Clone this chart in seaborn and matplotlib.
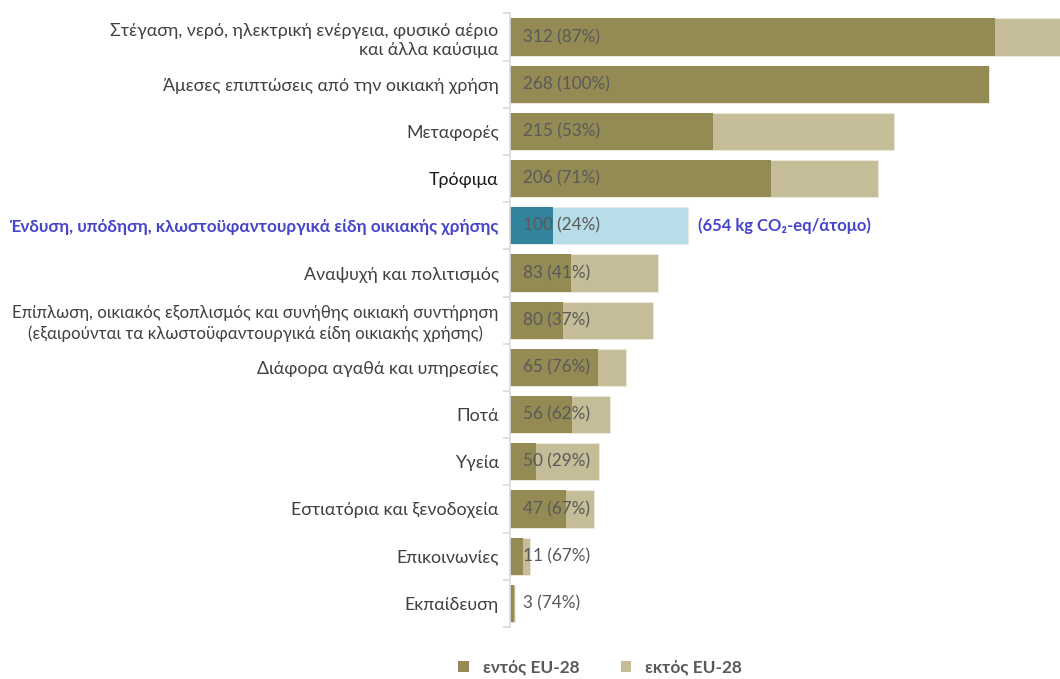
import matplotlib
matplotlib.use("Agg")
import matplotlib.pyplot as plt
import seaborn as sns
import pandas as pd
from matplotlib.patches import Patch

categories = [
    "Στέγαση, νερό, ηλεκτρική ενέργεια, φυσικό αέριο\nκαι άλλα καύσιμα",
    "Άμεσες επιπτώσεις από την οικιακή χρήση",
    "Μεταφορές",
    "Τρόφιμα",
    "Ένδυση, υπόδηση, κλωστοϋφαντουργικά είδη οικιακής χρήσης",
    "Αναψυχή και πολιτισμός",
    "Επίπλωση, οικιακός εξοπλισμός και συνήθης οικιακή συντήρηση\n(εξαιρούνται τα κλωστοϋφαντουργικά είδη οικιακής χρήσης)",
    "Διάφορα αγαθά και υπηρεσίες",
    "Ποτά",
    "Υγεία",
    "Εστιατόρια και ξενοδοχεία",
    "Επικοινωνίες",
    "Εκπαίδευση",
]
totals = [312, 268, 215, 206, 100, 83, 80, 65, 56, 50, 47, 11, 3]
pct_inside = [87, 100, 53, 71, 24, 41, 37, 76, 62, 29, 67, 67, 74]
legend_labels = ["εντός EU-28", "εκτός EU-28"]
highlight_note = "(654 kg CO₂-eq/άτομο)"
highlight_index = 4

inside = [t * p / 100 for t, p in zip(totals, pct_inside)]
df = pd.DataFrame({"cat": categories, "total": totals, "inside": inside})

DARK = "#948A54"
LIGHT = "#C4BD97"
TEAL = "#31849B"
LBLUE = "#B7DEE8"
BLUE_TXT = "#4545C8"
GREY_TXT = "#595959"

sns.set_theme(style="white")
plt.rcParams["font.family"] = ["Lato", "Noto Sans", "DejaVu Sans"]

fig = plt.figure(figsize=(10.6, 6.79), dpi=100)
ax = fig.add_axes([0.481, 0.0766, 0.519, 0.9036])

light_pal = [LBLUE if i == highlight_index else LIGHT for i in range(len(categories))]
dark_pal = [TEAL if i == highlight_index else DARK for i in range(len(categories))]

sns.barplot(data=df, x="total", y="cat", hue="cat", palette=light_pal, legend=False,
            orient="h", width=0.79, ax=ax, edgecolor="#EDEBDD", linewidth=0.6, saturation=1)
sns.barplot(data=df, x="inside", y="cat", hue="cat", palette=dark_pal, legend=False,
            orient="h", width=0.79, ax=ax, edgecolor="none", linewidth=0, saturation=1)

ax.set_xlim(0, 308)
ax.set_ylim(len(categories) - 0.5, -0.5)
ax.set_xlabel("")
ax.set_ylabel("")
ax.set_xticks([])
for s in ["top", "right", "bottom"]:
    ax.spines[s].set_visible(False)
ax.spines["left"].set_color("#D9D9D9")
ax.spines["left"].set_linewidth(1.2)

ax.set_yticks(range(len(categories)))
ax.set_yticklabels(categories, fontsize=12.8, color="#404040", ha="right", linespacing=1.3)
ax.tick_params(axis="y", which="major", length=0, pad=8)
ax.set_yticks([i - 0.5 for i in range(len(categories) + 1)], minor=True)
ax.tick_params(axis="y", which="minor", length=5, color="#D9D9D9", width=1.2, left=True)

for i, lab in enumerate(ax.get_yticklabels()):
    lab.set_multialignment("right")
    if i == highlight_index:
        lab.set_color(BLUE_TXT)
        lab.set_fontweight("bold")
        lab.set_fontsize(12.3)
    if i == 3:
        lab.set_color("#1a1a1a")
    if i == 6:
        lab.set_fontsize(12.2)
        lab.set_multialignment("center")

for i, (t, p) in enumerate(zip(totals, pct_inside)):
    ax.text(7.3, i, f"{t} ({p}%)", va="center", ha="left", fontsize=12.3, color=GREY_TXT)

ax.text(totals[highlight_index] + 5.5, highlight_index, highlight_note, va="center", ha="left",
        fontsize=12, fontweight="bold", color=BLUE_TXT)

handles = [Patch(facecolor=DARK, edgecolor="none"), Patch(facecolor=LIGHT, edgecolor="none")]
fig.legend(handles, legend_labels, loc="center", bbox_to_anchor=(0.566, 0.017), ncol=2,
           frameon=False, handlelength=0.6, handleheight=0.6, columnspacing=2.4,
           handletextpad=0.8, prop={"weight": "bold", "size": 12.4}, labelcolor=GREY_TXT)

fig.savefig("out.png", dpi=100)
